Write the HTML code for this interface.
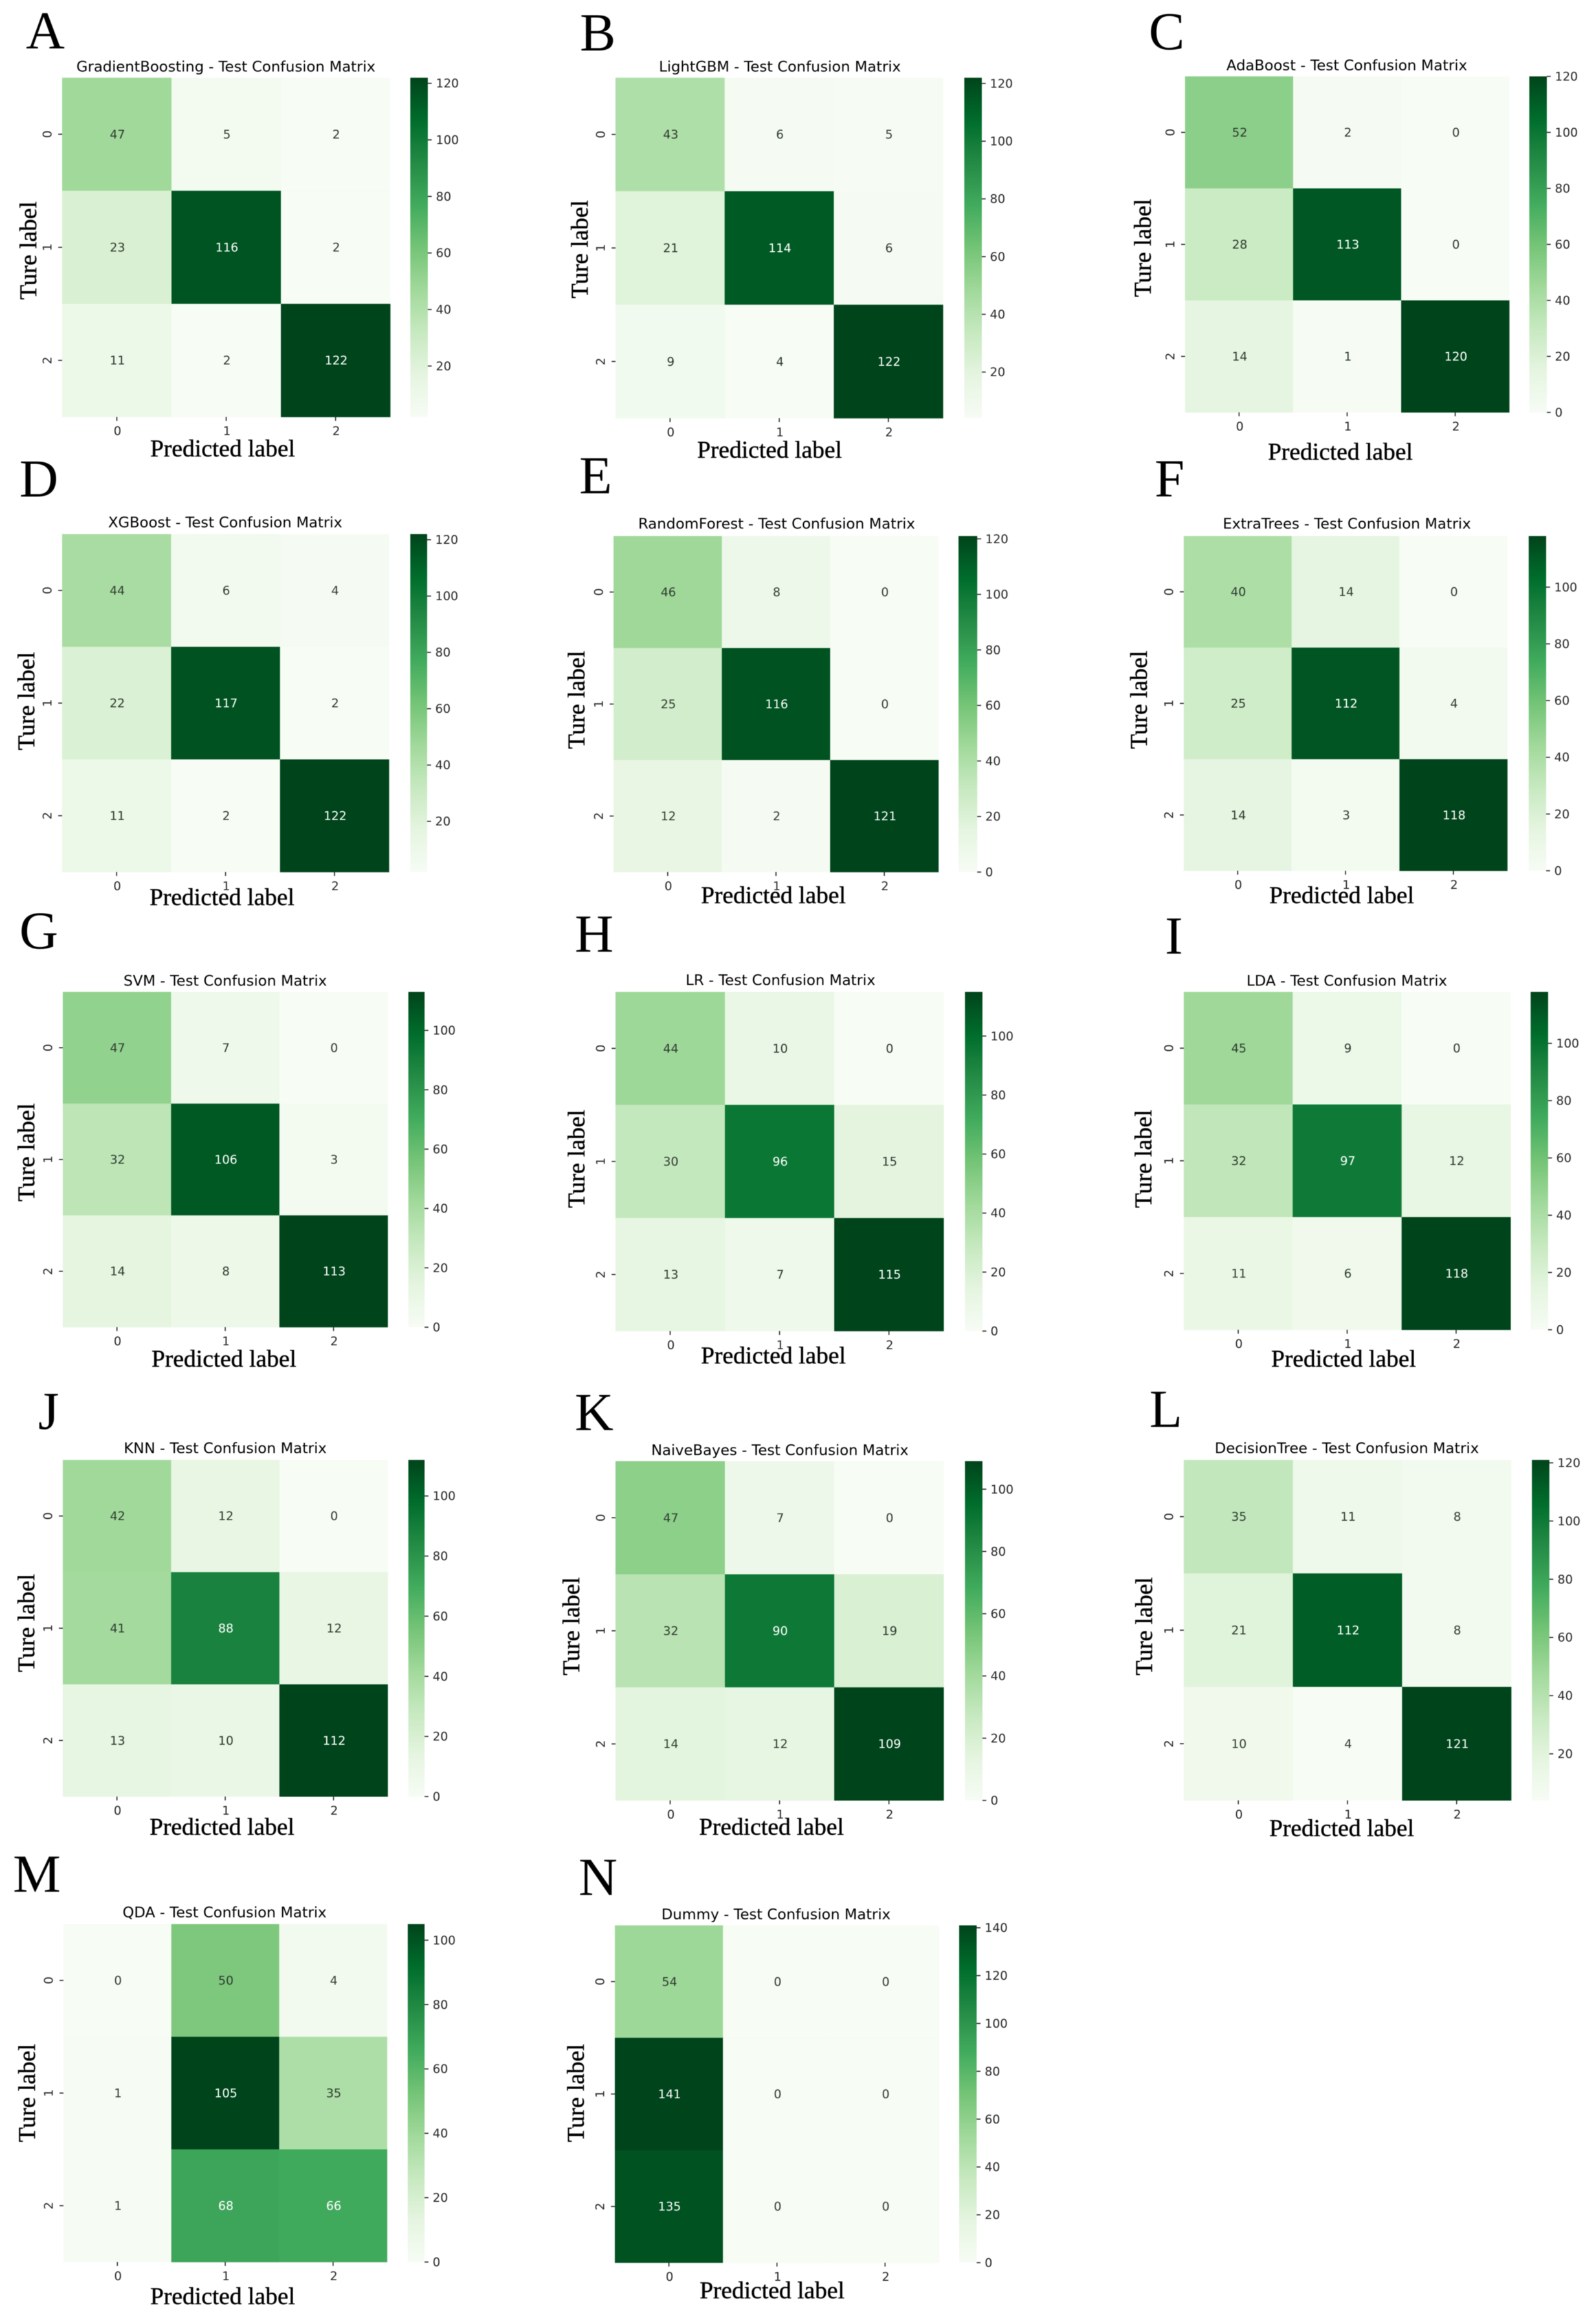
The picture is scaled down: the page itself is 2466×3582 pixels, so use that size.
<!DOCTYPE html>
<html lang="en">
<head>
<meta charset="utf-8">
<title>Test Confusion Matrices</title>
<style>
  html, body { margin: 0; padding: 0; background: #ffffff; }
  #figure { display: block; width: 2466px; height: 3582px; filter: blur(0.6px); }
  .panel-letter { font-family: "Liberation Serif", serif; font-size: 83px; fill: #000; }
  .axis-title { font-family: "Liberation Serif", serif; font-size: 37.5px; fill: #000; stroke: #000; stroke-width: 0.45px; text-anchor: middle; }
  .chart-title { font-family: "DejaVu Sans", sans-serif; font-size: 22.6px; fill: #000; text-anchor: middle; }
  .tick-label { font-family: "DejaVu Sans", sans-serif; font-size: 18.6px; fill: #262626; }
  .annot { font-family: "DejaVu Sans", sans-serif; font-size: 18.6px; text-anchor: middle; }
</style>
</head>
<body>
<svg id="figure" xmlns="http://www.w3.org/2000/svg" width="2466" height="3582" viewBox="0 0 2466 3582">
  <defs>
    <linearGradient id="greens-ramp" x1="0" y1="1" x2="0" y2="0">
      <stop offset="0" stop-color="#f7fcf5"/>
      <stop offset="0.125" stop-color="#e5f5e0"/>
      <stop offset="0.25" stop-color="#c7e9c0"/>
      <stop offset="0.375" stop-color="#a1d99b"/>
      <stop offset="0.5" stop-color="#74c476"/>
      <stop offset="0.625" stop-color="#41ab5d"/>
      <stop offset="0.75" stop-color="#238b45"/>
      <stop offset="0.875" stop-color="#006d2c"/>
      <stop offset="1" stop-color="#00441b"/>
    </linearGradient>
  </defs>
</svg>
<script>
// ---- chart data ----
const classCategories = ['0', '1', '2'];
const panelLetters = ['A', 'B', 'C', 'D', 'E', 'F', 'G', 'H', 'I', 'J', 'K', 'L', 'M', 'N'];
const modelNames = ['GradientBoosting', 'LightGBM', 'AdaBoost', 'XGBoost', 'RandomForest', 'ExtraTrees', 'SVM', 'LR', 'LDA', 'KNN', 'NaiveBayes', 'DecisionTree', 'QDA', 'Dummy'];

const gradientBoostingValues = [[47, 5, 2], [23, 116, 2], [11, 2, 122]];
const lightGbmValues = [[43, 6, 5], [21, 114, 6], [9, 4, 122]];
const adaBoostValues = [[52, 2, 0], [28, 113, 0], [14, 1, 120]];
const xgBoostValues = [[44, 6, 4], [22, 117, 2], [11, 2, 122]];
const randomForestValues = [[46, 8, 0], [25, 116, 0], [12, 2, 121]];
const extraTreesValues = [[40, 14, 0], [25, 112, 4], [14, 3, 118]];
const svmValues = [[47, 7, 0], [32, 106, 3], [14, 8, 113]];
const lrValues = [[44, 10, 0], [30, 96, 15], [13, 7, 115]];
const ldaValues = [[45, 9, 0], [32, 97, 12], [11, 6, 118]];
const knnValues = [[42, 12, 0], [41, 88, 12], [13, 10, 112]];
const naiveBayesValues = [[47, 7, 0], [32, 90, 19], [14, 12, 109]];
const decisionTreeValues = [[35, 11, 8], [21, 112, 8], [10, 4, 121]];
const qdaValues = [[0, 50, 4], [1, 105, 35], [1, 68, 66]];
const dummyValues = [[54, 0, 0], [141, 0, 0], [135, 0, 0]];

const ticksFrom20To120 = [20, 40, 60, 80, 100, 120];
const ticksFrom0To120 = [0, 20, 40, 60, 80, 100, 120];
const ticksFrom0To100 = [0, 20, 40, 60, 80, 100];
const ticksFrom0To140 = [0, 20, 40, 60, 80, 100, 120, 140];

const panelValues = [gradientBoostingValues, lightGbmValues, adaBoostValues, xgBoostValues, randomForestValues, extraTreesValues, svmValues, lrValues, ldaValues, knnValues, naiveBayesValues, decisionTreeValues, qdaValues, dummyValues];
const panelColorbarTicks = [ticksFrom20To120, ticksFrom20To120, ticksFrom0To120, ticksFrom20To120, ticksFrom0To120, ticksFrom0To100, ticksFrom0To100, ticksFrom0To100, ticksFrom0To100, ticksFrom0To100, ticksFrom0To100, ticksFrom20To120, ticksFrom0To100, ticksFrom0To140];

// ---- page layout (panel frames, separate from the data) ----
const panelFrames = [
  { left: 96,   right: 603,  top: 120,  bottom: 644,  barLeft: 634,  barRight: 661,  titleX: 349,  titleY: 103,  xTitleX: 344,  xTitleY: 694,  yTitleX: 45,   yTitleY: 387,  letterX: 41,   letterY: 75 },
  { left: 951,  right: 1457, top: 120,  bottom: 646,  barLeft: 1490, barRight: 1517, titleX: 1205, titleY: 103,  xTitleX: 1189, xTitleY: 696,  yTitleX: 897,  yTitleY: 385,  letterX: 897,  letterY: 78 },
  { left: 1831, right: 2332, top: 118,  bottom: 637,  barLeft: 2363, barRight: 2390, titleX: 2081, titleY: 101,  xTitleX: 2071, xTitleY: 699,  yTitleX: 1767, yTitleY: 383,  letterX: 1776, letterY: 76 },
  { left: 96,   right: 601,  top: 825,  bottom: 1347, barLeft: 634,  barRight: 660,  titleX: 348,  titleY: 807,  xTitleX: 343,  xTitleY: 1387, yTitleX: 42,   yTitleY: 1083, letterX: 31,   letterY: 767 },
  { left: 948,  right: 1450, top: 828,  bottom: 1347, barLeft: 1481, barRight: 1510, titleX: 1200, titleY: 809,  xTitleX: 1195, xTitleY: 1384, yTitleX: 892,  yTitleY: 1081, letterX: 896,  letterY: 762 },
  { left: 1829, right: 2329, top: 828,  bottom: 1345, barLeft: 2362, barRight: 2389, titleX: 2081, titleY: 809,  xTitleX: 2073, xTitleY: 1384, yTitleX: 1761, yTitleY: 1081, letterX: 1785, letterY: 767 },
  { left: 97,   right: 599,  top: 1532, bottom: 2050, barLeft: 631,  barRight: 656,  titleX: 348,  titleY: 1515, xTitleX: 346,  xTitleY: 2100, yTitleX: 42,   yTitleY: 1780, letterX: 31,   letterY: 1465 },
  { left: 951,  right: 1458, top: 1532, bottom: 2056, barLeft: 1491, barRight: 1518, titleX: 1206, titleY: 1514, xTitleX: 1195, xTitleY: 2095, yTitleX: 892,  yTitleY: 1790, letterX: 889,  letterY: 1470 },
  { left: 1829, right: 2334, top: 1532, bottom: 2054, barLeft: 2365, barRight: 2392, titleX: 2081, titleY: 1515, xTitleX: 2076, xTitleY: 2100, yTitleX: 1768, yTitleY: 1790, letterX: 1801, letterY: 1473 },
  { left: 97,   right: 599,  top: 2255, bottom: 2775, barLeft: 631,  barRight: 656,  titleX: 348,  titleY: 2237, xTitleX: 343,  xTitleY: 2823, yTitleX: 42,   yTitleY: 2507, letterX: 60,   letterY: 2207 },
  { left: 951,  right: 1458, top: 2257, bottom: 2781, barLeft: 1491, barRight: 1518, titleX: 1205, titleY: 2240, xTitleX: 1192, xTitleY: 2823, yTitleX: 884,  yTitleY: 2512, letterX: 889,  letterY: 2209 },
  { left: 1829, right: 2335, top: 2255, bottom: 2781, barLeft: 2367, barRight: 2394, titleX: 2081, titleY: 2237, xTitleX: 2073, xTitleY: 2825, yTitleX: 1769, yTitleY: 2512, letterX: 1777, letterY: 2204 },
  { left: 98,   right: 598,  top: 2972, bottom: 3494, barLeft: 630,  barRight: 656,  titleX: 347,  titleY: 2954, xTitleX: 344,  xTitleY: 3548, yTitleX: 43,   yTitleY: 3233, letterX: 21,   letterY: 2922 },
  { left: 950,  right: 1451, top: 2974, bottom: 3495, barLeft: 1482, barRight: 1509, titleX: 1199, titleY: 2957, xTitleX: 1193, xTitleY: 3539, yTitleX: 891,  yTitleY: 3233, letterX: 895,  letterY: 2927 }
];

// ---- colour scale: matplotlib "Greens" ----
const greensRamp = [[247,252,245],[229,245,224],[199,233,192],[161,217,155],[116,196,118],[65,171,93],[35,139,69],[0,109,44],[0,68,27]];
function greens(t) {
  const clamped = Math.max(0, Math.min(1, t));
  const position = clamped * (greensRamp.length - 1);
  const index = Math.min(greensRamp.length - 2, Math.floor(position));
  const fraction = position - index;
  const a = greensRamp[index];
  const b = greensRamp[index + 1];
  return [0, 1, 2].map(function (c) { return a[c] + (b[c] - a[c]) * fraction; });
}
function luminance(rgb) {
  const lin = rgb.map(function (v) {
    const s = v / 255;
    return s <= 0.03928 ? s / 12.92 : Math.pow((s + 0.055) / 1.055, 2.4);
  });
  return 0.2126 * lin[0] + 0.7152 * lin[1] + 0.0722 * lin[2];
}

const SVG_NS = 'http://www.w3.org/2000/svg';
const figure = document.getElementById('figure');
function make(tag, parent) {
  const el = document.createElementNS(SVG_NS, tag);
  parent.appendChild(el);
  return el;
}
function put(el, attrs) {
  Object.keys(attrs).forEach(function (k) { el.setAttribute(k, attrs[k]); });
  return el;
}

function drawPanel(panelIndex) {
  const frame = panelFrames[panelIndex];
  const values = panelValues[panelIndex];
  const barTicks = panelColorbarTicks[panelIndex];
  const letter = panelLetters[panelIndex];
  const flat = values.reduce(function (acc, row) { return acc.concat(row); }, []);
  const vmin = Math.min.apply(null, flat);
  const vmax = Math.max.apply(null, flat);
  const cols = classCategories.length;

  const cellW = (frame.right - frame.left) / cols;
  const cellH = (frame.bottom - frame.top) / cols;
  const xScale = function (c) { return frame.left + c * cellW; };
  const yScale = function (r) { return frame.top + r * cellH; };
  const colorScale = function (v) { return greens((v - vmin) / (vmax - vmin)); };
  const barScale = function (v) { return frame.top + (vmax - v) / (vmax - vmin) * (frame.bottom - frame.top); };

  const group = make('g', figure);
  
  

  const letterEl = make('text', group);
  put(letterEl, { x: frame.letterX - 1, y: frame.letterY, 'class': 'panel-letter' });
  letterEl.textContent = letter;
  
  

  const titleEl = make('text', group);
  put(titleEl, { x: frame.titleX, y: frame.titleY + 7.5, 'class': 'chart-title' });
  titleEl.textContent = modelNames[panelIndex] + ' - Test Confusion Matrix';
  
  

  values.forEach(function (row, r) {
    row.forEach(function (value, c) {
      const rgb = colorScale(value);
      const fill = 'rgb(' + rgb.map(Math.round).join(',') + ')';
      const cell = make('rect', group);
      put(cell, { x: xScale(c), y: yScale(r), width: cellW + 0.3, height: cellH + 0.3, fill: fill });
      
      

      const annot = make('text', group);
      put(annot, {
        x: xScale(c) + cellW / 2 + 1,
        y: yScale(r) + cellH / 2 + 6.5,
        'class': 'annot',
        fill: luminance(rgb) < 0.408 ? '#ffffff' : '#2f3b30'
      });
      annot.textContent = String(value);
      
      
    });
  });

  classCategories.forEach(function (label, i) {
    const tx = xScale(i) + cellW / 2;
    const xTick = make('line', group);
    put(xTick, { x1: tx, x2: tx, y1: frame.bottom, y2: frame.bottom + 6, stroke: '#262626', 'stroke-width': 1.6 });
    
    

    const xLabel = make('text', group);
    put(xLabel, { x: tx + 1, y: frame.bottom + 28, 'class': 'tick-label', 'text-anchor': 'middle' });
    xLabel.textContent = label;
    
    

    const ty = yScale(i) + cellH / 2;
    const yTick = make('line', group);
    put(yTick, { x1: frame.left - 6, x2: frame.left, y1: ty, y2: ty, stroke: '#262626', 'stroke-width': 1.6 });
    
    

    const lx = frame.left - 23;
    const yLabel = make('text', group);
    put(yLabel, { x: lx, y: ty, 'class': 'tick-label', 'text-anchor': 'middle', transform: 'rotate(-90 ' + lx + ' ' + ty + ') translate(0 6.5)' });
    yLabel.textContent = label;
    
    
  });

  const xTitle = make('text', group);
  put(xTitle, { x: frame.xTitleX, y: frame.xTitleY + 11, 'class': 'axis-title' });
  xTitle.textContent = 'Predicted label';
  
  

  const yTitle = make('text', group);
  put(yTitle, { x: frame.yTitleX, y: frame.yTitleY, 'class': 'axis-title', transform: 'rotate(-90 ' + frame.yTitleX + ' ' + frame.yTitleY + ') translate(0 11)' });
  yTitle.textContent = 'Ture label';
  
  

  const bar = make('rect', group);
  put(bar, { x: frame.barLeft, y: frame.top, width: frame.barRight - frame.barLeft, height: frame.bottom - frame.top, fill: 'url(#greens-ramp)' });
  
  

  barTicks.forEach(function (v) {
    const by = barScale(v);
    const barTick = make('line', group);
    put(barTick, { x1: frame.barRight, x2: frame.barRight + 6, y1: by, y2: by, stroke: '#262626', 'stroke-width': 1.6 });
    
    

    const barLabel = make('text', group);
    put(barLabel, { x: frame.barRight + 12.5, y: by + 6.5, 'class': 'tick-label' });
    barLabel.textContent = String(v);
    
    
  });
}

panelFrames.forEach(function (_, i) { drawPanel(i); });
</script>
</body>
</html>
